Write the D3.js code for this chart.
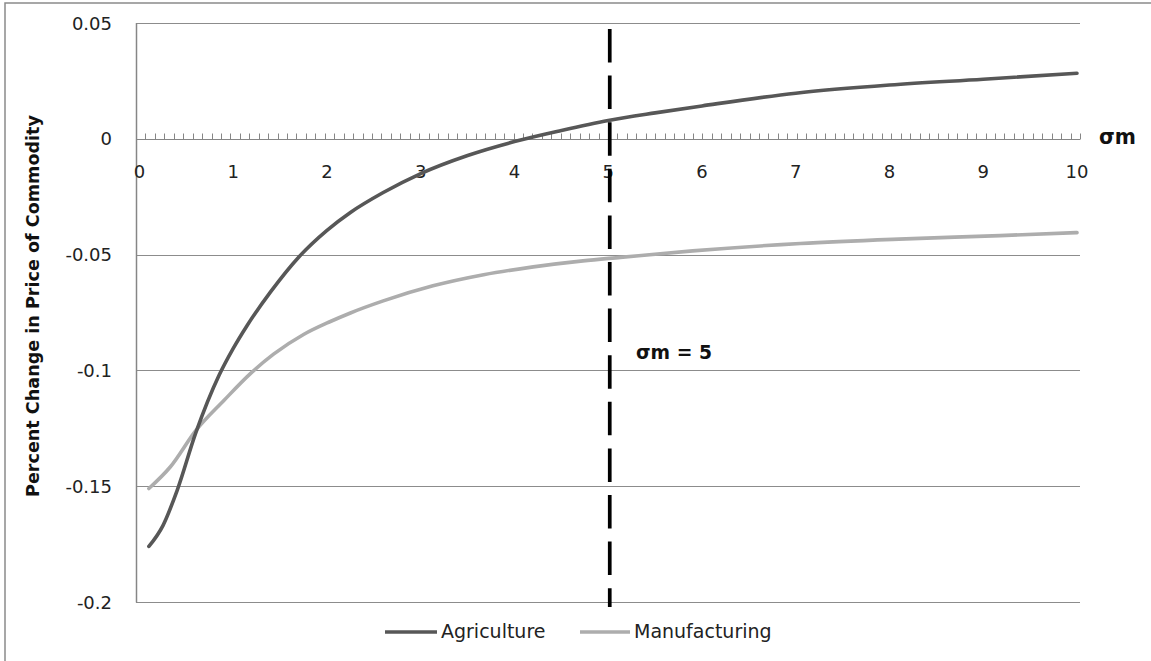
<!DOCTYPE html>
<html>
<head>
<meta charset="utf-8">
<script src="https://cdn.jsdelivr.net/npm/d3@7"></script>
<style>
  html, body { margin: 0; padding: 0; background: #fff; }
  svg { display: block; }
  text { font-family: "DejaVu Sans", "Noto Sans", sans-serif; }
</style>
</head>
<body>
<svg id="chart" width="1151" height="661"></svg>
<script>
// ---- data ----
const agricultureSigma = [0.1, 0.25, 0.4, 0.6, 0.85, 1.0, 1.15, 1.4, 1.7, 2.0, 2.25, 2.6, 3.0, 3.5, 4.0, 4.5, 5.0, 5.5, 6.0, 7.0, 8.0, 9.0, 10.0];
const agricultureValues = [-0.176, -0.167, -0.152, -0.127, -0.102, -0.0905, -0.0805, -0.066, -0.051, -0.0395, -0.0318, -0.0232, -0.0150, -0.0072, -0.0012, 0.0036, 0.0079, 0.0112, 0.0142, 0.0197, 0.0232, 0.0257, 0.0283];

const manufacturingSigma = [0.1, 0.33, 0.6, 0.9, 1.18, 1.43, 1.75, 2.03, 2.25, 2.6, 3.13, 3.67, 4.2, 4.73, 5.13, 5.9, 7.05, 8.1, 9.18, 10.0];
const manufacturingValues = [-0.151, -0.1416, -0.126, -0.113, -0.1015, -0.0930, -0.0845, -0.0790, -0.0752, -0.0700, -0.0635, -0.0587, -0.0553, -0.0527, -0.0512, -0.0484, -0.0452, -0.0433, -0.0418, -0.0405];

const xTickLabels = [0, 1, 2, 3, 4, 5, 6, 7, 8, 9, 10];
const yTickValues = [0.05, 0, -0.05, -0.1, -0.15, -0.2];
const yTickLabels = ["0.05", "0", "-0.05", "-0.1", "-0.15", "-0.2"];
const categoryCount = 100;
const markerSigma = 5;
const seriesNames = ["Agriculture", "Manufacturing"];
const yTitle = "Percent Change in Price of Commodity";
const xTitle = "σm";
const markerLabel = "σm = 5";

// ---- layout ----
const svg = d3.select("#chart");
const plotLeft = 136, plotRight = 1080, plotTop = 23, plotBottom = 602;

const x = d3.scaleLinear().domain([0, 10]).range([139.5, 1077]);
const xCat = d3.scaleLinear().domain([0, categoryCount]).range([plotLeft, plotRight]);
const y = d3.scaleLinear().domain([-0.2, 0.05]).range([plotBottom, plotTop]);

// fit helper: scale font so that text spans a target width
function fit(sel, target) {
  const node = sel.node();
  const fs = parseFloat(sel.attr("font-size"));
  const w = node.getComputedTextLength();
  if (w > 0) sel.attr("font-size", (fs * target / w).toFixed(2));
  return sel;
}

// outer chart border
svg.append("rect").attr("x", 5).attr("y", 3).attr("width", 1170).attr("height", 680)
  .attr("fill", "#fff").attr("stroke", "#8a8a8a").attr("stroke-width", 1.5);

// gridlines
svg.append("g").selectAll("line").data(yTickValues.filter(v => v !== 0)).join("line")
  .attr("x1", plotLeft).attr("x2", plotRight)
  .attr("y1", d => Math.round(y(d)) + 0.5).attr("y2", d => Math.round(y(d)) + 0.5)
  .attr("stroke", "#8c8c8c").attr("stroke-width", 1);

// y axis line
svg.append("line").attr("x1", plotLeft + 0.5).attr("x2", plotLeft + 0.5)
  .attr("y1", plotTop).attr("y2", plotBottom + 0.5)
  .attr("stroke", "#868686").attr("stroke-width", 1.5);

// y tick labels
svg.append("g").selectAll("text").data(yTickValues).join("text")
  .attr("x", 112).attr("y", d => y(d))
  .attr("text-anchor", "end").attr("dominant-baseline", "central")
  .attr("font-size", 18).attr("fill", "#222")
  .text((d, i) => yTickLabels[i]);

// x axis at zero
const y0 = Math.round(y(0)) + 0.5;
svg.append("line").attr("x1", plotLeft).attr("x2", plotRight)
  .attr("y1", y0).attr("y2", y0).attr("stroke", "#868686").attr("stroke-width", 1.2);
svg.append("g").selectAll("line").data(d3.range(1, categoryCount + 1)).join("line")
  .attr("x1", d => Math.round(xCat(d)) + 0.5).attr("x2", d => Math.round(xCat(d)) + 0.5)
  .attr("y1", y0).attr("y2", y0 - 6)
  .attr("stroke", "#868686").attr("stroke-width", 1);

// x tick labels
svg.append("g").selectAll("text").data(xTickLabels).join("text")
  .attr("x", d => x(d)).attr("y", 171)
  .attr("text-anchor", "middle").attr("dominant-baseline", "central")
  .attr("font-size", 18).attr("fill", "#222")
  .text(d => d);

// x title
fit(svg.append("text").attr("x", 1099).attr("y", 137).attr("dominant-baseline", "central")
  .attr("font-size", 19).attr("font-weight", "bold").attr("fill", "#111").text(xTitle), 37);

// y title
fit(svg.append("text").attr("transform", "translate(33,306) rotate(-90)")
  .attr("text-anchor", "middle").attr("dominant-baseline", "central")
  .attr("font-size", 16).attr("font-weight", "bold").attr("fill", "#111").text(yTitle), 382);

// series
const line = d3.line().x(d => x(d[0])).y(d => y(d[1])).curve(d3.curveMonotoneX);
const agri = agricultureSigma.map((s, i) => [s, agricultureValues[i]]);
const manu = manufacturingSigma.map((s, i) => [s, manufacturingValues[i]]);
const colors = ["#575757", "#adadad"];

svg.append("path").datum(manu).attr("d", line).attr("fill", "none")
  .attr("stroke", colors[1]).attr("stroke-width", 3.6).attr("stroke-linecap", "round");
svg.append("path").datum(agri).attr("d", line).attr("fill", "none")
  .attr("stroke", colors[0]).attr("stroke-width", 3.6).attr("stroke-linecap", "round");

// marker dashed line at sigma = 5
svg.append("line").attr("x1", x(markerSigma) + 1.5).attr("x2", x(markerSigma) + 1.5)
  .attr("y1", 29).attr("y2", 607)
  .attr("stroke", "#000").attr("stroke-width", 3.7).attr("stroke-dasharray", "33.5,13.1");

fit(svg.append("text").attr("x", 636).attr("y", 352).attr("dominant-baseline", "central")
  .attr("font-size", 17).attr("font-weight", "bold").attr("fill", "#111").text(markerLabel), 76);

// legend
const legendItems = [
  { name: seriesNames[0], color: colors[0], x1: 385, x2: 437, tx: 441 },
  { name: seriesNames[1], color: colors[1], x1: 580, x2: 630, tx: 634 }
];
const lg = svg.append("g");
legendItems.forEach(it => {
  lg.append("line").attr("x1", it.x1).attr("x2", it.x2).attr("y1", 632).attr("y2", 632)
    .attr("stroke", it.color).attr("stroke-width", 3.5);
  lg.append("text").attr("x", it.tx).attr("y", 631).attr("dominant-baseline", "central")
    .attr("font-size", 19).attr("fill", "#222").text(it.name);
});
</script>
</body>
</html>
